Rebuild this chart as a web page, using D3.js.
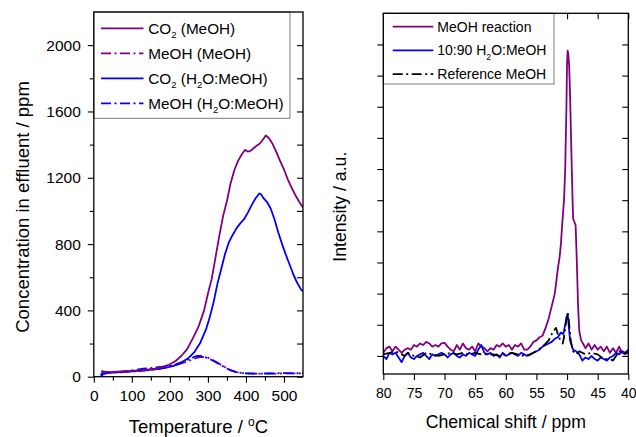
<!DOCTYPE html>
<html>
<head>
<meta charset="utf-8">
<script src="https://cdn.jsdelivr.net/npm/d3@7"></script>
<style>
  body { margin: 0; background: #fff; }
  svg { display: block; }
  text { font-family: "Liberation Sans", Arial, sans-serif; fill: #000; }
</style>
</head>
<body>
<svg id="chart" width="636" height="437"></svg>
<script>
// ---------- Left panel: TPD effluent concentrations ----------
const tempCO2MeOH = [20, 30, 40, 60, 80, 100, 120, 140, 160, 180, 200, 215, 230, 245, 260, 275, 290, 300, 310, 320, 330, 340, 350, 360, 370, 380, 390, 398, 405, 412, 420, 428, 436, 444, 452, 460, 470, 480, 490, 500, 510, 520, 530, 540, 550];
const co2MeOH     = [30, 28, 27, 30, 32, 35, 38, 42, 48, 58, 75, 95, 125, 165, 230, 300, 400, 500, 590, 720, 850, 970, 1060, 1170, 1250, 1305, 1345, 1368, 1358, 1362, 1378, 1393, 1405, 1428, 1455, 1440, 1405, 1355, 1300, 1250, 1190, 1140, 1095, 1055, 1020];

const tempCO2Water = [18, 25, 35, 50, 70, 100, 130, 160, 190, 210, 230, 250, 265, 280, 295, 305, 315, 325, 335, 345, 355, 365, 375, 385, 395, 405, 415, 425, 435, 440, 445, 455, 465, 475, 485, 495, 505, 515, 525, 535, 545, 550];
const co2Water     = [0, 15, 22, 25, 28, 32, 38, 45, 55, 65, 85, 115, 150, 205, 285, 360, 450, 560, 650, 740, 810, 855, 895, 925, 950, 990, 1035, 1075, 1105, 1100, 1080, 1055, 1015, 950, 870, 800, 735, 675, 615, 565, 525, 515];

const tempMeOHMeOH = [20, 30, 50, 80, 110, 140, 170, 200, 220, 240, 255, 270, 285, 300, 315, 330, 345, 360, 375, 390, 410, 440, 470, 500, 530, 550];
const meohMeOH     = [35, 25, 25, 28, 32, 38, 45, 60, 72, 88, 100, 113, 120, 115, 98, 78, 58, 40, 28, 22, 20, 18, 18, 20, 20, 20];

const tempMeOHWater = [18, 25, 40, 70, 100, 130, 160, 190, 215, 240, 255, 270, 285, 300, 315, 330, 345, 360, 375, 390, 410, 440, 470, 500, 530, 550];
const meohWater     = [10, 30, 28, 30, 38, 48, 55, 62, 75, 95, 110, 125, 125, 112, 95, 75, 55, 38, 27, 22, 19, 19, 20, 22, 20, 22];

const tempTicks = [0, 100, 200, 300, 400, 500];
const tempMinor = [50, 150, 250, 350, 450];
const concTicks = [0, 400, 800, 1200, 1600, 2000];
const concMinor = [200, 600, 1000, 1400, 1800];

// ---------- Right panel: 13C NMR spectra ----------
const ppmReaction = [80, 79.5, 79, 78.5, 78, 77.5, 77, 76.5, 76, 75.5, 75, 74.5, 74, 73.5, 73, 72.5, 72, 71.5, 71, 70.5, 70, 69.5, 69, 68.5, 68, 67.5, 67, 66.5, 66, 65.5, 65, 64.5, 64, 63.5, 63, 62.5, 62, 61.5, 61, 60.5, 60, 59.5, 59, 58.5, 58, 57.5, 57, 56.5, 56, 55.5, 55, 54.5, 54, 53.5, 53, 52.5, 52, 51.5, 51.2, 51, 50.8, 50.5, 50.3, 50.1, 50, 49.9, 49.8, 49.65, 49.5, 49.3, 49.1, 49, 48.8, 48.6, 48.4, 48.2, 48, 47.7, 47.4, 47, 46.5, 46, 45.5, 45, 44.5, 44, 43.5, 43, 42.5, 42, 41.5, 41, 40.5, 40];
const intReaction = [0.1, 0.25, 0.3, 0.15, 0.3, 0.2, 0.1, 0.2, 0.25, 0.2, 0.35, 0.3, 0.4, 0.35, 0.45, 0.4, 0.3, 0.35, 0.3, 0.4, 0.42, 0.3, 0.2, 0.15, 0.35, 0.2, 0.4, 0.25, 0.2, 0.3, 0.15, 0.4, 0.3, 0.25, 0.15, 0.25, 0.2, 0.35, 0.3, 0.4, 0.3, 0.35, 0.2, 0.35, 0.3, 0.4, 0.2, 0.2, 0.3, 0.45, 0.5, 0.6, 0.65, 0.9, 1.2, 1.6, 2.0, 2.8, 3.2, 3.6, 4.2, 5.0, 6.0, 8.0, 9.4, 9.8, 9.7, 9.3, 8.3, 6.6, 5.0, 4.4, 4.3, 4.2, 3.0, 1.6, 0.8, 0.5, 0.4, 0.25, 0.4, 0.2, 0.35, 0.2, 0.3, 0.15, 0.3, 0.1, 0.25, 0.1, 0.3, 0.1, 0.05, 0.15];

const ppmWater = [80, 79.5, 79, 78.5, 78, 77.5, 77, 76.5, 76, 75.5, 75, 74.5, 74, 73.5, 73, 72.5, 72, 71.5, 71, 70.5, 70, 69.5, 69, 68.5, 68, 67.5, 67, 66.5, 66, 65.5, 65, 64.5, 64, 63.5, 63, 62.5, 62, 61.5, 61, 60.5, 60, 59.5, 59, 58.5, 58, 57.5, 57, 56.5, 56, 55.5, 55, 54.5, 54, 53.5, 53, 52.5, 52, 51.5, 51, 50.6, 50.4, 50.2, 50, 49.9, 49.7, 49.5, 49.2, 49, 48.5, 48, 47.5, 47, 46.5, 46, 45.5, 45, 44.5, 44, 43.5, 43, 42.5, 42, 41.5, 41, 40.5, 40];
const intWater = [0.0, -0.1, 0.1, 0.05, 0.1, -0.05, -0.2, 0.0, 0.1, -0.05, -0.1, 0.0, 0.05, 0.1, 0.0, -0.1, 0.05, 0.0, 0.05, 0.1, 0.05, -0.05, 0.05, 0.1, 0.0, -0.05, 0.05, 0.0, 0.1, 0.05, 0.0, 0.2, 0.35, 0.1, 0.05, 0.1, 0.0, 0.05, -0.05, 0.1, 0.0, 0.05, 0.1, 0.05, 0.0, 0.1, 0.05, 0.0, 0.05, 0.1, 0.15, 0.2, 0.3, 0.35, 0.4, 0.45, 0.55, 0.6, 0.75, 0.7, 0.9, 1.1, 1.3, 1.35, 0.9, 0.5, 0.3, 0.2, 0.15, 0.05, -0.15, -0.05, -0.1, 0.0, -0.1, -0.15, -0.05, -0.1, -0.15, -0.05, 0.0, 0.1, 0.05, 0.15, 0.1, 0.2];

const ppmReference = [80, 79, 78, 77.5, 77, 76.5, 76, 75, 74, 73, 72, 71, 70, 69, 68, 67, 66, 65, 64, 63, 62, 61, 60, 59, 58, 57, 56, 55, 54, 53, 52.5, 52, 51.8, 51.5, 51.2, 51, 50.7, 50.5, 50.3, 50.1, 49.95, 49.8, 49.6, 49.4, 49.2, 49, 48.5, 48, 47.5, 47, 46, 45, 44, 43, 42.5, 42, 41.5, 41, 40];
const intReference = [0.05, 0.1, 0.15, 0.1, 0.05, 0.0, 0.1, 0.0, -0.05, 0.1, 0.05, 0.0, 0.05, 0.1, 0.05, 0.1, 0.05, 0.1, 0.05, 0.05, 0.05, 0.0, 0.05, 0.1, 0.05, 0.0, 0.05, 0.15, 0.3, 0.5, 0.7, 0.85, 0.9, 0.7, 0.55, 0.5, 0.4, 0.6, 0.9, 1.2, 1.38, 1.3, 0.9, 0.5, 0.3, 0.15, 0.05, 0.15, 0.1, 0.05, 0.1, 0.05, -0.1, -0.1, -0.15, 0.0, 0.15, 0.1, 0.1];

const ppmTicks = [80, 75, 70, 65, 60, 55, 50, 45, 40];
const intensityTicks = [0, 1, 2, 3, 4, 5, 6, 7, 8, 9, 10];

const PURPLE = "#800080";
const BLUE = "#0000ff";
const DASHDOT = "10,3.5,2,3.5";

const svg = d3.select("#chart");

function zip(xs, ys) { return xs.map((x, i) => [x, ys[i]]); }

// Writes a label whose parts may be subscripts; the vertical offset of a
// subscript is undone on the following part.
function writeParts(t, parts, fs) {
  let shift = 0;
  parts.forEach(p => {
    const ts = t.append("tspan");
    if (p.sub) {
      ts.attr("font-size", fs * 0.62).attr("dy", fs * 0.3 - shift);
      shift = fs * 0.3;
    } else {
      if (shift) ts.attr("dy", -shift);
      shift = 0;
    }
    ts.text(p.t);
  });
}

function drawLegend(g, box, rows, opts) {
  const lg = g.append("g");
  lg.append("rect")
    .attr("x", box.x).attr("y", box.y)
    .attr("width", box.w).attr("height", box.h)
    .attr("fill", "#fff").attr("stroke", "#7a7a7a").attr("stroke-width", 1);
  rows.forEach((r, i) => {
    const cy = opts.y0 + i * opts.dy;
    lg.append("line")
      .attr("x1", opts.lx1).attr("x2", opts.lx2)
      .attr("y1", cy).attr("y2", cy)
      .attr("stroke", r.color).attr("stroke-width", 1.8)
      .attr("stroke-dasharray", r.dash || null);
    const t = lg.append("text")
      .attr("x", opts.tx).attr("y", cy + opts.fs * 0.36)
      .attr("font-size", opts.fs);
    writeParts(t, r.parts, opts.fs);
  });
}

const intFormat = d3.format("d");

// ---------- Left panel ----------
(function () {
  const L = 93.8, R = 303, T = 12, B = 376.7;
  const fs = 15.5;
  const x = d3.scaleLinear().domain([0, 550]).range([L, R]);
  const y = d3.scaleLinear().domain([0, 2200]).range([B, T]);
  const g = svg.append("g");

  const clip = g.append("clipPath").attr("id", "clipL");
  clip.append("rect").attr("x", L).attr("y", T).attr("width", R - L).attr("height", B - T);

  // bottom axis with labels, plus minor ticks
  const bx = g.append("g").attr("transform", `translate(0,${B})`)
    .call(d3.axisBottom(x).tickValues(tempTicks).tickFormat(intFormat).tickSize(6).tickPadding(7.3).tickSizeOuter(0));
  g.append("g").attr("transform", `translate(0,${B})`)
    .call(d3.axisBottom(x).tickValues(tempMinor).tickSize(4).tickFormat("").tickSizeOuter(0));
  // left axis with labels, plus minor ticks
  const ly = g.append("g").attr("transform", `translate(${L},0)`)
    .call(d3.axisLeft(y).tickValues(concTicks).tickFormat(intFormat).tickSize(6).tickPadding(7).tickSizeOuter(0));
  g.append("g").attr("transform", `translate(${L},0)`)
    .call(d3.axisLeft(y).tickValues(concMinor).tickSize(4).tickFormat("").tickSizeOuter(0));
  // mirrored ticks on the right and top, pointing inward
  g.append("g").attr("transform", `translate(${R},0)`)
    .call(d3.axisLeft(y).tickValues(concTicks.concat(concMinor)).tickSize(6).tickFormat("").tickSizeOuter(0));
  g.append("g").attr("transform", `translate(0,${T})`)
    .call(d3.axisBottom(x).tickValues(tempTicks.concat(tempMinor)).tickSize(6).tickFormat("").tickSizeOuter(0));

  g.selectAll(".domain").remove();
  g.selectAll(".tick line").attr("stroke", "#000").attr("stroke-width", 1.1);
  [bx, ly].forEach(a => a.selectAll("text").attr("font-size", fs).attr("font-family", "Liberation Sans, Arial, sans-serif").attr("fill", "#000"));

  const line = d3.line().x(d => x(d[0])).y(d => y(d[1]));
  const series = [
    { d: zip(tempMeOHMeOH, meohMeOH), c: PURPLE, dash: DASHDOT },
    { d: zip(tempMeOHWater, meohWater), c: BLUE, dash: DASHDOT },
    { d: zip(tempCO2Water, co2Water), c: BLUE },
    { d: zip(tempCO2MeOH, co2MeOH), c: PURPLE }
  ];
  const lines = g.append("g").attr("clip-path", "url(#clipL)");
  series.forEach(s => {
    lines.append("path").attr("d", line(s.d)).attr("fill", "none")
      .attr("stroke", s.c).attr("stroke-width", 1.8)
      .attr("stroke-linejoin", "round")
      .attr("stroke-dasharray", s.dash || null);
  });

  drawLegend(g, { x: L, y: T, w: 290 - L, h: 118.3 - T }, [
    { color: PURPLE, parts: [{ t: "CO" }, { t: "2", sub: true }, { t: " (MeOH)" }] },
    { color: PURPLE, dash: DASHDOT, parts: [{ t: "MeOH (MeOH)" }] },
    { color: BLUE, parts: [{ t: "CO" }, { t: "2", sub: true }, { t: " (H" }, { t: "2", sub: true }, { t: "O:MeOH)" }] },
    { color: BLUE, dash: DASHDOT, parts: [{ t: "MeOH (H" }, { t: "2", sub: true }, { t: "O:MeOH)" }] }
  ], { y0: 28.3, dy: 25, lx1: 101, lx2: 143.5, tx: 148.3, fs: 15.3 });

  g.append("rect").attr("x", L).attr("y", T).attr("width", R - L).attr("height", B - T)
    .attr("fill", "none").attr("stroke", "#000").attr("stroke-width", 1.3);

  g.append("text").attr("text-anchor", "middle")
    .attr("transform", `translate(29,207) rotate(-90)`)
    .attr("font-size", 18.5).text("Concentration in effluent / ppm");
  const xt = g.append("text").attr("text-anchor", "middle")
    .attr("x", (L + R) / 2).attr("y", 433.3).attr("font-size", 18.5);
  xt.append("tspan").text("Temperature / ");
  xt.append("tspan").attr("font-size", 12).attr("dy", -7).text("o");
  xt.append("tspan").attr("dy", 7).text("C");
})();

// ---------- Right panel ----------
(function () {
  const L = 383.3, R = 628.3, T = 13.3, B = 374;
  const fs = 14;
  const x = d3.scaleLinear().domain([80, 40]).range([L, R]);
  const y = d3.scaleLinear().domain([-0.58, 11]).range([B, T]);
  const g = svg.append("g");

  const clip = g.append("clipPath").attr("id", "clipR");
  clip.append("rect").attr("x", L).attr("y", T).attr("width", R - L).attr("height", B - T);

  const bx = g.append("g").attr("transform", `translate(0,${B})`)
    .call(d3.axisBottom(x).tickValues(ppmTicks).tickFormat(intFormat).tickSize(6).tickPadding(8.4).tickSizeOuter(0));
  g.append("g").attr("transform", `translate(${L},0)`)
    .call(d3.axisLeft(y).tickValues(intensityTicks).tickSize(6).tickFormat("").tickSizeOuter(0));
  g.append("g").attr("transform", `translate(${R},0)`)
    .call(d3.axisLeft(y).tickValues(intensityTicks).tickSize(6).tickFormat("").tickSizeOuter(0));
  g.append("g").attr("transform", `translate(0,${T})`)
    .call(d3.axisBottom(x).tickValues(ppmTicks).tickSize(6).tickFormat("").tickSizeOuter(0));

  g.selectAll(".domain").remove();
  g.selectAll(".tick line").attr("stroke", "#000").attr("stroke-width", 1.1);
  bx.selectAll("text").attr("font-size", fs).attr("font-family", "Liberation Sans, Arial, sans-serif").attr("fill", "#000");

  const line = d3.line().x(d => x(d[0])).y(d => y(d[1]));
  const series = [
    { d: zip(ppmReaction, intReaction), c: PURPLE },
    { d: zip(ppmWater, intWater), c: BLUE },
    { d: zip(ppmReference, intReference), c: "#000", dash: DASHDOT }
  ];
  const lines = g.append("g").attr("clip-path", "url(#clipR)");
  series.forEach(s => {
    lines.append("path").attr("d", line(s.d)).attr("fill", "none")
      .attr("stroke", s.c).attr("stroke-width", 1.8)
      .attr("stroke-linejoin", "round")
      .attr("stroke-dasharray", s.dash || null);
  });

  drawLegend(g, { x: L, y: T, w: 554 - L, h: 84 - T }, [
    { color: PURPLE, parts: [{ t: "MeOH reaction" }] },
    { color: BLUE, parts: [{ t: "10:90 H" }, { t: "2", sub: true }, { t: "O:MeOH" }] },
    { color: "#000", dash: DASHDOT, parts: [{ t: "Reference MeOH" }] }
  ], { y0: 26.7, dy: 23.7, lx1: 392.7, lx2: 433.3, tx: 437.3, fs: 14 });

  g.append("rect").attr("x", L).attr("y", T).attr("width", R - L).attr("height", B - T)
    .attr("fill", "none").attr("stroke", "#000").attr("stroke-width", 1.3);

  g.append("text").attr("text-anchor", "middle")
    .attr("transform", `translate(346,206.7) rotate(-90)`)
    .attr("font-size", 17.7).text("Intensity / a.u.");
  g.append("text").attr("text-anchor", "middle")
    .attr("x", (L + R) / 2).attr("y", 427.7).attr("font-size", 17.7)
    .text("Chemical shift / ppm");
})();
</script>
</body>
</html>
